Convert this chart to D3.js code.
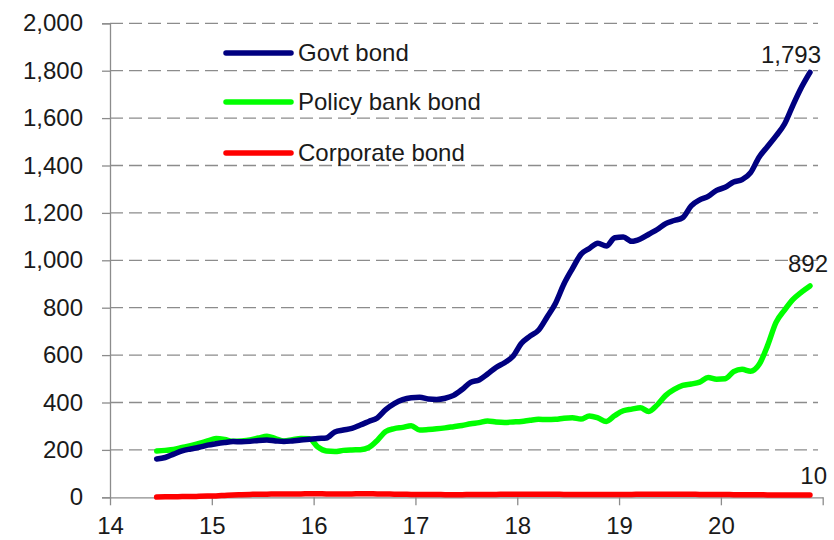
<!DOCTYPE html>
<html><head><meta charset="utf-8">
<script src="https://cdn.jsdelivr.net/npm/d3@7"></script>
<style>
html,body{margin:0;padding:0;background:#fff;}
svg{display:block;font-family:Arial,"Liberation Sans",sans-serif;}
</style></head>
<body><svg id="c" width="834" height="540"></svg>
<script>
// Monthly observations, Jun 2014 .. Nov 2020
const startYear = 14, startMonth = 6;
const seriesNames = ["Govt bond", "Policy bank bond", "Corporate bond"];
const govtBond = [162,168,182,196,204,211,220,226,231,235,234,236,240,242,238,235,238,242,245,248,250,276,284,291,305,320,335,370,395,412,420,422,415,413,418,430,455,485,495,520,548,568,595,650,680,705,760,818,900,965,1025,1050,1072,1060,1095,1098,1080,1090,1110,1130,1155,1168,1180,1230,1255,1270,1295,1308,1330,1340,1370,1435,1480,1525,1575,1655,1730,1793];
const policyBankBond = [195,198,202,210,218,227,238,248,244,236,238,242,250,258,248,238,243,248,247,212,195,193,198,200,201,210,240,278,290,295,302,284,286,289,293,298,303,310,315,322,318,316,318,320,325,329,328,329,334,336,330,343,335,320,345,365,372,378,362,390,430,455,472,478,486,505,498,500,530,540,532,560,640,738,790,835,866,892];
const corporateBond = [1,2,2,3,3,4,5,6,8,10,11,12,13,13,14,14,14,14,15,15,14,14,14,14,15,15,14,14,13,13,12,12,12,12,11,11,11,12,12,12,12,13,13,13,13,13,13,13,12,12,12,12,12,12,12,12,12,13,13,13,13,13,13,13,12,12,12,12,11,11,11,11,10,10,10,10,10,10];
const yTicks = [0,200,400,600,800,1000,1200,1400,1600,1800,2000];
const xTicks = [14,15,16,17,18,19,20,21];
const xTickLabels = ["14","15","16","17","18","19","20",""];
const endLabels = ["1,793","892","10"];
const colors = ["#000080","#00ff00","#ff0000"];

const svg = d3.select("#c");
const x = d3.scaleLinear().domain([14,21]).range([110,822.7]);
const y = d3.scaleLinear().domain([0,2000]).range([497.3,23.3]);
const xOf = i => startYear + (startMonth - 0.5 + i) / 12;

// gridlines
svg.append("g").selectAll("line").data(yTicks.filter(d=>d>0)).join("line")
  .attr("x1",110).attr("x2",818).attr("y1",d=>y(d)).attr("y2",d=>y(d))
  .attr("stroke","#8c8c8c").attr("stroke-width",1.3).attr("stroke-dasharray","13,6");

// y axis
const yAxis = svg.append("g").attr("transform","translate(110,0)")
  .call(d3.axisLeft(y).tickValues(yTicks).tickSize(8).tickPadding(19).tickFormat(d3.format(",")));
yAxis.select(".domain").attr("stroke","#8c8c8c").attr("stroke-width",1.3);
yAxis.selectAll(".tick line").attr("stroke","#8c8c8c").attr("stroke-width",1.3);
yAxis.selectAll("text").attr("font-size",24).attr("fill","#1a1a1a").attr("font-family","Arial, 'Liberation Sans', sans-serif");

// x axis
const xAxis = svg.append("g").attr("transform","translate(0,497.3)")
  .call(d3.axisBottom(x).tickValues(xTicks).tickSize(8).tickSizeOuter(0).tickPadding(12).tickFormat((d,i)=>xTickLabels[i]));
xAxis.select(".domain").attr("stroke","#8c8c8c").attr("stroke-width",1.3);
xAxis.selectAll(".tick line").attr("stroke","#8c8c8c").attr("stroke-width",1.3);
xAxis.selectAll("text").attr("font-size",24).attr("fill","#1a1a1a").attr("font-family","Arial, 'Liberation Sans', sans-serif");

// lines
const line = d3.line().x((d,i)=>x(xOf(i))).y(d=>y(d)).curve(d3.curveMonotoneX);
const all = [govtBond, policyBankBond, corporateBond];
[2,1,0].forEach(k=>{
  svg.append("path").datum(all[k]).attr("d",line).attr("fill","none")
    .attr("stroke",colors[k]).attr("stroke-width",5.5)
    .attr("stroke-linecap","round").attr("stroke-linejoin","round");
});

// end labels
const labelPos = [[821,63],[828,271.7],[827,484]];
all.forEach((s,k)=>{
  svg.append("text").attr("x",labelPos[k][0]).attr("y",labelPos[k][1])
    .attr("text-anchor","end").attr("font-size",24).attr("fill","#1a1a1a").text(endLabels[k]);
});

// legend
const legY = [53,102,153];
seriesNames.forEach((n,k)=>{
  svg.append("line").attr("x1",226).attr("x2",291).attr("y1",legY[k]).attr("y2",legY[k])
    .attr("stroke",colors[k]).attr("stroke-width",5.5).attr("stroke-linecap","round");
  svg.append("text").attr("x",298).attr("y",legY[k]).attr("dy","0.35em")
    .attr("font-size",24).attr("fill","#1a1a1a").text(n);
});
</script></body></html>
